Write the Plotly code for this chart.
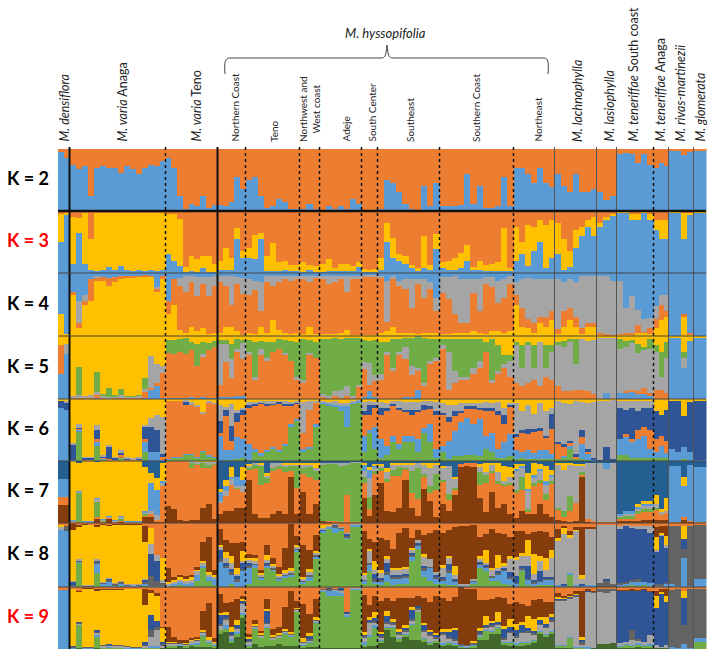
import plotly.graph_objects as go

W, H = 709, 650
ORANGE, BLUE, YELLOW, GRAY = "#ED7D31", "#5B9BD5", "#FFC000", "#A5A5A5"
GREEN, NAVY, STEEL, BROWN = "#70AD47", "#2F5597", "#255E91", "#843C0C"
DARK, DKGREEN = "#636363", "#43682B"

group_names = ["densiflora", "varia Anaga", "varia Teno", "Northern Coast", "Teno", "NW", "Adeje", "South Center",
               "Southeast", "Southern Coast", "Northeast", "lachnophylla", "lasiophylla", "teneriffae South",
               "teneriffae Anaga", "rivas-martinezii", "glomerata"]
group_cols = [2, 16, 9, 5, 9, 3, 7, 3, 10, 12, 7, 7, 3, 6, 3, 4, 2]
group_span = [11.5, 96, 52, 28, 54, 20, 42, 16, 62, 74, 41, 42, 20, 37, 15, 25, 13]

k2_blue = [[95,85],[75,68,72,25,70,72,70,70,62,72,68,60,70,75,72,80],[85,70,25,3,12,8,25,5,10],[10,8,15,55,35],
 [50,55,25,5,8,20,15,3,3],[3,12,3],[2,8,3,8,3,20,12],[2,2,1],[3,50,45,30,12,3,2,40,8,45],[8,8,8,10,60,12,40,5,5,8,55,8],
 [70,70,60,45,70,45,38],[60,40,30,60,30,30,35],[30,18,25],[92,93,92,78,92,75],[70,78,72],[97,97,90,95],[97,97]]

k3_blue = [[50,95],[15,65,15,5,3,5,10,5,12,5,3,5,3,5,3,5],[30,20,12,2,3,2,8,2,2],[5,5,5,55,25],[25,22,55,3,3,3,5,3,3],[2,5,2],
 [2,3,3,3,3,3,10],[2,2,2],[5,50,25,20,15,8,3,8,5,38],[8,5,5,8,20,5,5,3,3,3,3,3],[20,30,12,35,50,8,25],[30,5,10,40,60,75,60],
 [75,85,92],[97,97,85,85,97,85],[70,55,55],[97,97,55,95],[97,97]]
k3_yellow = [[45,3],[75,23,82,50,94,92,87,92,85,92,93,93,94,92,94,92],[65,75,75,8,25,20,20,25,12],[15,35,20,18,10],[15,40,10,25,45,15,15,10,10],[15,8,10],
 [12,20,5,12,12,8,8],[5,3,5],[20,30,32,10,12,5,5,52,8,25],[10,15,20,25,25,5,15,10,12,15,70,5],[55,20,65,40,35,70,60],[50,50,25,30,15,10,30],
 [5,5,3],[2,2,10,10,2,10],[15,30,30],[2,2,42,3],[2,2]]

k4_yellow = [[35,3],[65,12,50,55,88,88,80,85,92,93,93,94,95,94,70,90],[35,50,10,5,15,8,12,3,5],[5,15,15,8,2],[5,3,15,5,25,10,5,3,5],[3,15,3],
 [3,3,3,5,10,2,2],[2,2,2],[5,8,15,5,5,5,3,5,5,5],[3,3,5,5,5,8,5,3,8,8,5,8],[50,15,12,5,20,15,25],[3,15,25,15,3,15,15],[2,1,1],[2,2,2,5,5,3],[12,25,30],[0,0,30,3],[0,0]]
k4_orange = [[0,0],[5,8,5,35,5,6,12,8,3,3,2,2,2,2,5,5],[20,40,70,65,70,55,70,60,75],[80,65,35,75,65],[60,70,25,80,55,75,85,85,85],[88,70,90],
 [88,80,82,85,60,90,90],[92,93,92],[88,15,75,75,70,40,80,55,70,35],[65,55,30,15,15,60,35,80,70,45,55,75],[15,30,15,15,10,15,15],[8,25,20,15,10,5,5],[3,2,1],[1,2,2,12,2,10],[15,25,10],[0,0,5,2],[0,0]]
k4_gray = [[0,0],[0,35,10,0,2,0,0,0,0,0,0,0,0,0,3,0],[0,0,12,25,10,30,12,30,15],[10,15,45,10,25],[25,15,45,10,15,10,5,8,5],[5,10,3],
 [5,12,10,5,25,3,3],[3,2,3],[3,65,5,8,15,45,8,30,10,20],[25,35,60,70,70,22,50,10,15,35,30,12],[20,45,65,70,60,60,50],[80,45,45,55,82,75,75],[90,92,85],[85,40,60,25,20,15],[20,15,25],[0,0,0,0],[0,0]]

k5_blue = [[40,72],[1,1,0,1,1,1,0,1,1,1,1,1,1,15,20,2],[1,2,2,2,3,2,3,2,2],[3,3,3,5,4],[0,0,0,0,0,0,0,0,0],[0,0,0],[0,0,0,0,0,0,0],[3,12,3],
 [0,0,0,0,3,3,15,0,0,0],[0,0,0,0,0,0,0,0,0,0,0,0],[0,0,0,0,0,0,0],[0,0,0,0,0,0,0],[0,10,0],[10,10,12,8,8,5],[0,0,0],[97,97,50,92],[97,97]]
k5_orange = [[45,0],[2,2,2,2,5,2,1,1,2,1,1,2,10,3,5,40],[72,70,72,70,75,50,65,75,80],[20,55,30,70,60],[70,30,70,60,75,80,70,60,30],[25,70,65],
 [3,1,5,2,5,1,20],[45,10,25],[30,70,45,70,60,35,30,20,55,60],[80,15,25,30,30,40,50,75,25,40,50,35],[25,20,25,30,20,35,30],[20,12,12,15,15,12,8],[0,0,0],[0,2,2,5,10,5],[15,15,10],[0,0,0,0],[0,0]]
k5_gray = [[0,15],[2,3,2,3,5,3,2,2,3,2,2,2,5,50,30,10],[0,0,0,0,0,0,3,0,0],[65,30,30,5,25],[5,5,10,5,0,0,3,0,5],[5,3,0],
 [5,3,8,12,15,3,2],[10,35,10],[10,5,5,5,20,15,5,5,5,5],[5,60,20,5,5,10,10,0,5,5,5,25],[60,30,60,20,70,15,45],[65,70,80,40,80,80,85],[98,88,98],[70,70,75,60,60,70],[60,20,55],[0,0,15,0],[0,0]]
k5_green = [[0,0],[0,45,0,0,32,2,14,2,10,1,1,1,18,0,0,0],[20,22,22,25,12,35,20,12,10],[5,5,25,15,5],[18,55,12,25,15,15,20,32,55],[65,20,25],
 [88,92,85,82,78,94,75],[35,35,55],[50,15,45,20,15,45,60,72,35,30],[10,20,50,60,60,45,35,15,65,40,15,10],[5,35,5,35,0,35,10],[5,10,3,40,0,0,0],[0,0,0],[15,10,5,15,5,15],[10,40,25],[0,0,10,0],[0,0]]

k6_green = [[0,0],[0,48,0,0,25,2,0,0,5,0,0,0,15,0,0,0],[3,5,5,10,10,5,15,8,5],[0,2,2,3,5],[2,15,8,15,20,15,25,55,65],[15,20,55],
 [92,90,88,80,55,92,95],[15,45,20],[5,10,30,20,30,30,15,45,30,5],[15,3,8,8,10,10,8,20,15,5,5,8],[3,5,3,3,3,3,3],[3,5,20,3,3,1,0],[0,0,0],[10,10,5,5,5,5],[5,5,5],[0,0,3,0],[0,0]]
k6_blue = [[85,82],[2,2,1,1,5,2,1,1,1,1,1,1,15,15,15,3],[1,1,1,1,2,1,1,1,2],[40,15,15,35,30],[25,5,5,3,3,3,3,5,3],[5,3,5],
 [1,2,3,8,35,3,2],[25,5,35],[30,15,10,8,10,10,20,8,30,15],[10,30,40,55,60,50,60,20,30,15,25,35],[15,10,15,10,15,15,8],[0,3,5,0,25,10,3],[0,0,1],[25,30,25,30,35,15],[10,20,8],[20,15,20,15],[1,1]]
k6_orange = [[0,0],[0,2,2,2,5,2,2,1,3,2,1,2,5,0,0,3],[92,90,90,80,78,82,60,85,85],[5,55,15,25,40],[60,70,80,70,68,75,60,30,25],[25,60,35],
 [0,0,0,0,0,0,0],[35,25,30],[40,55,50,55,40,35,45,30,25,55],[50,30,25,15,15,25,15,40,35,55,30,45],[20,30,25,35,30,20,40],[25,15,5,5,10,5,0],[0,0,0],[0,3,5,15,15,30],[20,15,20],[0,0,0,0],[0,0]]
k6_navy = [[12,12],[25,2,2,2,15,2,20,3,5,1,1,1,20,40,35,5],[0,0,0,5,0,0,0,0,0],[20,10,25,15,8],[3,2,2,5,2,3,5,2,2],[0,0,0],
 [0,0,0,0,0,0,0],[5,15,5],[10,5,3,3,3,8,3,8,3,5],[3,8,8,3,3,3,3,5,5,5,15,3],[5,5,8,3,5,3,25],[3,5,2,3,12,3,2],[1,22,3],[50,40,50,30,30,35],[45,35,50],[78,83,50,80],[97,97]]
k6_gray = [[0,3],[2,5,2,2,8,2,3,2,3,2,2,2,3,15,25,60],[0,0,0,3,5,2,3,2,2],[25,5,35,5,2],[5,3,2,3,3,2,3,3,2],[50,15,3],
 [5,3,5,5,3,2,2],[15,8,5],[10,8,3,10,12,12,12,5,8,15],[15,20,10,12,5,5,8,10,8,15,10,3],[50,30,40,25,40,40,10],[65,65,60,85,45,75,90],[97,75,95],[12,15,12,18,12,12],[0,0,0],[0,0,0,0],[0,0]]

k7_brown = [[29,29],[1,0,0,0,8,1,8,1,2,0,0,0,10,10,3,2],[28,22,5,4,5,5,25,30,6],[15,20,20,25,25],[70,15,8,8,15,20,15,75,15],[50,15,30],
 [3,2,0,0,0,0,0],[40,12,45],[65,20,18,25,70,25,12,55,35,10],[30,20,45,90,92,90,40,18,50,25,30,15],[8,20,15,15,30,15,10],[5,3,2,3,75,2,1],[1,1,1],[3,3,3,3,5,5],[5,5,5],[1,1,5,2],[0,0]]
k7_green = [[0,0],[0,48,0,0,25,2,0,0,5,0,0,0,3,0,0,0],[0,0,0,0,8,2,8,5,2],[0,0,0,2,0],[2,8,30,10,5,5,8,8,35],[10,15,15],
 [92,93,92,90,50,96,96],[10,20,5],[5,5,10,15,3,35,50,5,10,25],[3,10,3,0,0,0,20,15,3,3,3,3],[5,20,3,5,3,10,3],[3,10,25,0,5,0,0],[0,0,0],[2,5,5,5,5,3],[3,0,0],[0,0,0,0],[0,0]]
k7_gray = [[0,0],[2,2,2,2,5,2,2,2,2,2,2,2,2,5,8,5],[0,0,0,0,3,3,2,5,3],[2,8,10,3,10],[3,2,2,3,8,5,3,3,3],[5,5,3],
 [3,2,2,5,3,1,1],[10,30,5],[3,12,8,3,5,10,8,15,30,15],[20,45,15,0,0,0,8,3,10,15,3,10],[30,15,30,10,15,15,8],[70,65,50,60,10,90,95],[96,85,96],[2,3,3,5,5,5],[5,3,3],[0,0,0,0],[0,0]]
k7_blue = [[29,29],[1,1,1,1,2,1,1,1,1,1,1,1,3,45,40,3],[0,0,0,0,0,0,0,0,0],[15,8,3,15,10],[0,0,0,0,0,0,0,0,0],[0,0,0],
 [0,0,0,0,0,0,0],[10,15,3],[0,0,0,0,0,0,0,0,0,0],[0,0,0,0,0,0,0,0,0,0,0,0],[3,3,3,3,3,5,2],[0,0,0,0,0,0,0],[0,10,0],[3,5,5,3,5,5],[0,0,0],[90,90,50,90],[88,88]]
k7_yellow = [[0,0],[95,46,96,96,58,93,88,95,89,96,96,96,70,15,20,30],[0,0,0,0,0,1,1,1,1],[5,10,15,0,20],[3,0,3,3,0,0,3,2,2],[3,3,10],
 [0,0,0,0,0,0,0],[3,3,3],[3,5,3,3,3,3,0,3,8,3],[2,0,3,0,0,0,5,15,3,15,25,15],[8,3,25,20,8,25,8],[3,12,3,3,3,0,0],[0,0,0],[0,0,0,3,3,3],[15,5,20],[0,0,15,0],[0,0]]
k7_steel = [[29,29],[0,2,0,0,1,0,0,0,0,0,0,0,10,20,27,2],[0,0,0,0,0,0,0,0,0],[45,30,10,25,10],[5,3,3,20,3,3,3,3,3],[3,2,2],
 [3,2,2,3,2,1,1],[3,10,5],[5,12,3,3,3,3,3,3,3,3],[8,8,25,5,3,3,5,3,3,3,8,10],[5,5,20,3,5,8,15],[3,3,3,5,5,3,2],[2,3,2],[85,80,80,70,65,65],[55,78,60],[8,8,25,6],[10,10]]

k8_green = [[0,0],[0,38,0,0,22,2,0,0,3,0,0,0,1,0,0,0],[0,3,3,3,3,10,30,10,3],[0,0,5,0,0],[5,30,12,30,25,10,15,15,55],[5,10,45],
 [85,92,85,88,75,95,95],[5,25,5],[3,8,3,5,5,40,60,15,10,5],[5,3,3,0,0,5,30,25,10,10,5,3],[0,25,3,3,3,3,3],[1,1,20,1,1,0,0],[0,0,0],[1,1,3,1,3,2],[0,0,0],[0,0,0,0],[0,0]]
k8_blue = [[90,88],[2,2,1,1,15,3,8,3,3,2,2,2,5,2,2,3],[3,3,5,3,3,8,3,5,10],[40,30,15,8,25],[25,5,3,3,3,3,3,5,3],[3,5,3],
 [3,2,8,3,3,2,2],[5,10,3],[5,10,10,8,10,8,5,10,20,8],[5,20,5,3,3,3,5,5,5,10,20,10],[5,3,8,3,5,8,8],[2,2,2,2,2,3,3],[0,0,0],[3,5,5,8,5,5],[3,3,5],[5,2,45,2],[12,12]]
k8_dark = [[0,8],[1,1,1,1,3,2,3,2,3,2,1,2,3,15,8,3],[0,0,0,0,0,0,0,0,0],[3,3,3,5,3],[3,2,2,2,2,2,2,3,2],[2,5,3],
 [1,1,3,2,3,1,1],[1,2,5],[3,5,3,3,3,2,2,5,2,3],[3,3,2,0,0,2,2,2,2,2,2,2],[2,2,2,2,2,2,2],[0,0,0,0,0,0,0],[6,10,5],[3,2,3,3,0,0],[2,2,2],[90,93,15,93],[85,85]]
k8_navy = [[0,0],[5,1,0,0,2,0,2,0,0,0,0,0,3,35,30,0],[0,0,0,0,0,0,0,0,0],[15,5,5,5,10],[5,0,0,2,0,0,0,0,0],[0,0,0],
 [1,0,2,0,2,0,0],[0,0,8],[3,15,3,3,3,3,2,3,0,3],[3,10,3,0,0,0,3,3,0,3,3,8],[10,3,20,3,15,3,3],[0,2,0,0,2,0,0],[0,3,0],[85,88,82,80,82,78],[50,75,55],[0,0,15,0],[0,0]]
k8_gray = [[3,0],[1,1,1,1,1,1,1,1,1,1,1,1,1,15,10,5],[2,2,3,3,5,8,5,5,3],[5,8,10,3,3],[5,3,3,5,3,3,3,3,3],[3,3,3],
 [2,1,1,1,1,1,1],[8,20,5],[8,5,8,8,8,5,5,15,12,5],[15,10,5,2,2,2,3,3,10,5,3,20],[25,15,15,10,15,10,30],[70,78,55,85,8,88,88],[92,85,93],[3,2,3,3,5,10],[3,2,3],[0,0,0,0],[0,0]]
k8_yellow = [[5,0],[80,52,95,94,52,90,82,92,88,93,94,93,58,25,0,35],[3,3,5,5,5,2,3,3,3],[3,8,10,8,15],[3,5,3,8,3,3,3,3,2],[3,5,3],
 [5,1,0,0,0,0,0],[3,3,15],[5,5,3,3,3,3,0,3,0,0],[3,3,15,0,0,0,5,20,3,20,5,5],[5,5,25,30,8,20,12],[3,10,5,2,5,0,0],[0,0,0],[0,0,0,0,0,0],[20,3,15],[0,0,20,0],[0,0]]
k8_brown = [[0,0],[10,2,1,1,2,1,1,1,1,1,1,1,25,0,0,0],[22,5,3,3,2,3,30,55,8],[25,20,20,40,15],[5,5,3,15,10,10,35,70,15],[50,30,25],
 [0,0,0,0,0,0,0],[65,15,30],[50,25,30,55,60,15,15,30,40,65],[50,40,60,90,90,85,30,25,60,35,45,30],[40,35,10,35,40,40,20],[15,3,5,3,75,2,3],[0,0,0],[0,0,0,0,0,0],[15,10,15],[0,0,0,0],[0,0]]

k9_dkgreen = [[0,0],[1,1,1,1,1,1,1,1,1,1,1,1,1,1,1,2],[3,3,5,3,5,3,3,3,3],[25,28,10,20,50],[3,8,3,5,5,8,5,5,5],[3,3,3],
 [1,1,1,1,1,1,1],[3,5,5],[10,30,20,12,20,15,15,12,8,10],[5,8,5,3,2,3,15,15,25,25,8,5],[5,5,8,10,25,20,25],[3,1,1,1,1,1,1],[8,8,10],[2,2,3,3,3,1],[3,2,3],[0,0,0,0],[0,0]]
k9_green = [[0,0],[0,38,0,0,18,1,1,1,1,0,0,0,1,1,1,0],[2,2,1,2,2,5,18,8,3],[5,5,3,5,5],[2,25,15,30,10,10,20,15,55],[3,8,40],
 [92,85,85,85,52,95,95],[5,15,30],[3,5,15,5,3,25,45,5,3,3],[3,3,3,1,1,3,5,15,3,10,3,5],[3,5,3,3,3,3,3],[3,5,18,1,1,0,0],[0,0,0],[2,5,2,5,3,5],[0,0,0],[0,0,0,0],[12,12]]
k9_blue = [[95,95],[1,1,1,1,5,1,2,1,1,1,1,1,1,3,3,1],[1,1,1,1,1,1,1,1,1],[0,5,3,3,3],[2,1,1,1,1,1,1,1,1],[1,1,1],
 [2,8,8,5,3,2,2],[3,3,3],[1,1,1,1,1,1,1,1,1,1],[1,1,1,1,1,1,1,1,1,1,1,1],[1,1,1,1,1,1,1],[1,1,1,1,1,3,0],[0,0,0],[2,2,2,2,2,2],[0,0,0],[3,2,8,2],[5,5]]
k9_gray = [[0,0],[1,1,1,1,3,2,2,2,2,2,1,1,2,15,25,3],[3,3,2,2,5,5,5,3,3],[8,10,5,5,15],[5,3,3,5,3,3,3,3,3],[3,2,2],
 [1,1,2,3,1,1,1],[8,20,5],[5,5,3,5,5,5,3,10,10,3],[15,5,5,1,1,1,3,3,8,3,3,15],[10,15,15,10,10,10,15],[72,72,62,82,5,88,90],[85,82,85],[3,3,8,3,3,15],[3,2,3],[0,0,0,0],[0,0]]
k9_dark = [[0,0],[1,1,1,1,2,1,1,1,1,1,1,1,3,10,5,3],[1,1,1,1,1,1,1,1,1],[2,2,2,2,2],[2,1,1,1,1,1,1,1,1],[2,2,2],
 [1,2,1,2,1,0,0],[2,2,2],[3,3,3,3,3,3,3,3,3,3],[2,2,2,2,2,2,2,2,2,2,2,2],[2,2,2,2,2,2,2],[1,1,1,1,3,1,1],[3,8,3],[0,0,15,3,0,0],[0,0,0],[92,95,30,94],[80,80]]
k9_navy = [[0,0],[1,1,0,0,1,0,1,0,0,0,0,0,3,25,10,3],[0,0,0,0,0,0,0,0,0],[15,5,5,3,3],[3,0,0,20,0,0,0,0,0],[0,5,0],
 [0,2,0,3,2,0,0],[3,3,5],[3,10,3,3,3,15,3,8,3,3],[3,10,15,0,0,0,3,3,3,3,15,8],[10,10,5,3,5,5,5],[1,1,1,2,5,1,0],[0,0,0],[85,82,65,78,85,70],[60,85,70],[0,0,45,0],[0,0]]
k9_yellow = [[0,0],[92,50,94,94,65,90,88,90,90,92,93,93,60,35,40,22],[1,1,1,1,1,2,3,3,1],[3,5,8,8,3],[2,3,3,3,3,3,3,3,1],[5,5,3],
 [0,0,0,0,0,0,0],[3,3,10],[3,8,3,3,3,3,0,3,3,3],[3,3,3,0,0,3,5,15,3,15,5,12],[10,5,20,20,5,10,5],[3,2,2,1,3,0,0],[0,0,0],[0,0,0,0,0,0],[20,3,10],[0,0,10,0],[0,0]]
k9_brown = [[0,0],[1,1,1,1,1,1,1,1,1,1,1,1,25,5,5,1],[25,8,3,5,3,3,30,55,6],[30,15,40,35,5],[5,5,3,15,10,10,35,65,12],[55,30,30],
 [0,0,0,0,0,0,0],[60,20,25],[50,20,30,50,45,15,15,40,45,60],[50,45,50,92,90,85,45,25,35,25,45,25],[35,30,15,30,30,25,20],[6,3,3,5,75,2,1],[0,0,0],[1,1,1,1,1,1],[8,5,10],[0,0,0,0],[0,0]]

panels = [
    ("K = 2", "black", 149, 211, [("blue", BLUE, k2_blue), ("orange", ORANGE, None)]),
    ("K = 3", "#FF0000", 211, 273, [("blue", BLUE, k3_blue), ("yellow", YELLOW, k3_yellow), ("orange", ORANGE, None)]),
    ("K = 4", "black", 273, 336, [("yellow", YELLOW, k4_yellow), ("orange", ORANGE, k4_orange), ("gray", GRAY, k4_gray), ("blue", BLUE, None)]),
    ("K = 5", "black", 336, 399, [("blue", BLUE, k5_blue), ("orange", ORANGE, k5_orange), ("gray", GRAY, k5_gray), ("green", GREEN, k5_green), ("yellow", YELLOW, None)]),
    ("K = 6", "black", 399, 461, [("green", GREEN, k6_green), ("blue", BLUE, k6_blue), ("orange", ORANGE, k6_orange), ("navy", NAVY, k6_navy), ("gray", GRAY, k6_gray), ("yellow", YELLOW, None)]),
    ("K = 7", "black", 461, 523, [("brown", BROWN, k7_brown), ("orange", ORANGE, None), ("green", GREEN, k7_green), ("gray", GRAY, k7_gray), ("blue", BLUE, k7_blue), ("yellow", YELLOW, k7_yellow), ("steel", STEEL, k7_steel)]),
    ("K = 8", "black", 523, 587, [("green", GREEN, k8_green), ("blue", BLUE, k8_blue), ("dark", DARK, k8_dark), ("navy", NAVY, k8_navy), ("gray", GRAY, k8_gray), ("yellow", YELLOW, k8_yellow), ("brown", BROWN, k8_brown), ("orange", ORANGE, None)]),
    ("K = 9", "#FF0000", 587, 649, [("dkgreen", DKGREEN, k9_dkgreen), ("green", GREEN, k9_green), ("blue", BLUE, k9_blue), ("gray", GRAY, k9_gray), ("dark", DARK, k9_dark), ("navy", NAVY, k9_navy), ("yellow", YELLOW, k9_yellow), ("brown", BROWN, k9_brown), ("orange", ORANGE, None)]),
]

x_left, x_right = 58, 58 + sum(group_span)
x_pos, x_wid = [], []
edges = [0]
for n, s in zip(group_cols, group_span):
    for i in range(n):
        x_pos.append(edges[-1] + (i + .5) * s / n)
        x_wid.append(s / n)
    edges.append(edges[-1] + s)

fig = go.Figure()
layout_axes = {}
for idx, (lab, col, top, bot, series) in enumerate(panels):
    yname = "y" if idx == 0 else f"y{idx + 1}"
    layout_axes["yaxis" if idx == 0 else f"yaxis{idx + 1}"] = dict(
        domain=[1 - bot / H, 1 - top / H], range=[0, 100], visible=False, fixedrange=True)
    flat = {name: (None if g is None else [v for grp in g for v in grp]) for name, _, g in series}
    known = [v for v in flat.values() if v is not None]
    for name, color, _ in series:
        vals = flat[name]
        if vals is None:
            vals = [max(0, 100 - sum(k[i] for k in known)) for i in range(len(x_pos))]
        fig.add_bar(x=x_pos, y=vals, width=x_wid, yaxis=yname, xaxis="x", name=name, showlegend=False,
                    marker=dict(color=color, line=dict(width=0)))

def px(x): return x / W
def py(y): return 1 - y / H

fig.update_layout(
    width=W, height=H, margin=dict(l=0, r=0, t=0, b=0), barmode="stack", bargap=0,
    paper_bgcolor="white", plot_bgcolor="white", showlegend=False,
    xaxis=dict(domain=[x_left / W, x_right / W], range=[0, sum(group_span)], visible=False, fixedrange=True),
    font=dict(family="Lato", color="#222222"),
    **layout_axes,
)

shapes = []
dotted = [1, 3, 4, 5, 6, 7, 8, 9, 13]
for i in range(1, len(edges) - 1):
    X = px(x_left + edges[i])
    g = i - 1  # edges[i] is the right end of group g
    if g in (0, 2):
        st = dict(color="#111111", width=2, dash="solid")
    elif g in dotted:
        st = dict(color="#111111", width=1.5, dash="dot")
    else:
        st = dict(color="#555555", width=1, dash="solid")
    shapes.append(dict(type="line", xref="paper", yref="paper", x0=X, x1=X, y0=py(147), y1=py(649), line=st))
for j, yy in enumerate([211, 273, 336, 399, 461, 523, 587]):
    shapes.append(dict(type="line", xref="paper", yref="paper", x0=px(58), x1=px(706), y0=py(yy), y1=py(yy),
                       line=dict(color="#111111" if j == 0 else "#444444", width=2.5 if j == 0 else 1)))
pts = ("M {} {} C {} {} {} {} {} {} L {} {} C {} {} {} {} {} {} C {} {} {} {} {} {} L {} {} C {} {} {} {} {} {}").format(
    px(225), py(74), px(224), py(62), px(225), py(58), px(230), py(58),
    px(381), py(58), px(385), py(58), px(386), py(56), px(387), py(45),
    px(388), py(56), px(389), py(58), px(393), py(58),
    px(544), py(58), px(548), py(58), px(549), py(62), px(548), py(74))
shapes.append(dict(type="path", path=pts, xref="paper", yref="paper", line=dict(color="#444444", width=1)))
fig.update_layout(shapes=shapes)

species = [("<i>M. densiflora</i>", 64), ("<i>M. varia</i> Anaga", 122), ("<i>M. varia</i> Teno", 196),
           ("<i>M. lachnophylla</i>", 577), ("<i>M. lasiophylla</i>", 609), ("<i>M. teneriffae</i> South coast", 633),
           ("<i>M. teneriffae</i> Anaga", 660), ("<i>M. rivas-martinezii</i>", 680), ("<i>M. glomerata</i>", 700)]
regions = [("Northern Coast", 234), ("Teno", 274), ("Northwest and<br>West coast", 309), ("Adeje", 345), ("South Center", 371),
           ("Southeast", 410), ("Southern Coast", 476), ("Northeast", 537)]
for t, x in species:
    fig.add_annotation(text=t, x=px(x), y=py(144), xref="paper", yref="paper", textangle=-90, showarrow=False,
                       xanchor="center", yanchor="bottom", font=dict(size=12.5, color="#222222"))
for t, x in regions:
    fig.add_annotation(text=t, x=px(x), y=py(144), xref="paper", yref="paper", textangle=-90, showarrow=False,
                       xanchor="center", yanchor="bottom", font=dict(size=10, color="#222222"))
fig.add_annotation(text="<i>M. hyssopifolia</i>", x=px(385), y=py(33), xref="paper", yref="paper", showarrow=False,
                   xanchor="center", yanchor="middle", font=dict(size=13, color="#222222"))
for lab, col, top, bot, _ in panels:
    fig.add_annotation(text=f"<b>{lab}</b>", x=px(28), y=py((top + bot) / 2 - 2), xref="paper", yref="paper",
                       showarrow=False, xanchor="center", yanchor="middle", font=dict(size=18, color=col))

fig.write_html("out.html", config={"displayModeBar": False},
               post_script="document.body.style.margin='0';document.body.style.overflow='hidden';")
